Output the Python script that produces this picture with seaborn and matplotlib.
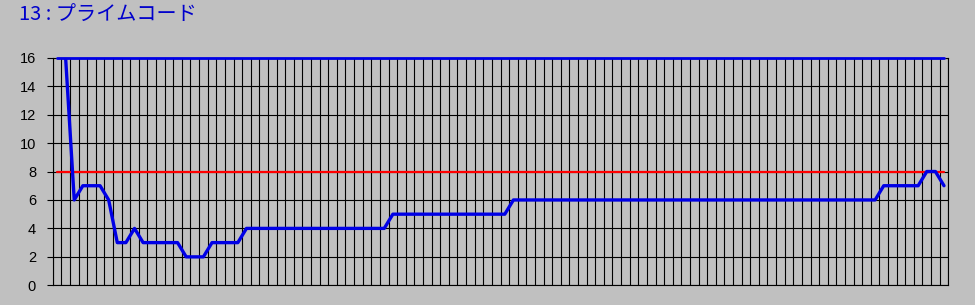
import numpy as np
import pandas as pd
import matplotlib
matplotlib.use("Agg")
import matplotlib.pyplot as plt
import seaborn as sns

title = "13 : プライムコード"
# series values (first point lies above the chart's top and is clipped)
values = ([28, 16, 6, 7, 7, 7, 6, 3, 3, 4]
          + [3] * 5 + [2] * 3 + [3] * 4 + [4] * 17 + [5] * 14
          + [6] * 43 + [7] * 5 + [8, 8, 7])
upper_line = 16
center_line = 8
y_ticks = [0, 2, 4, 6, 8, 10, 12, 14, 16]

n = len(values)
df = pd.DataFrame({"idx": np.arange(n), "value": values,
                   "upper": [upper_line] * n, "center": [center_line] * n})

sns.set_style("white")
plt.rcParams["font.family"] = ["Liberation Sans", "Noto Sans CJK JP", "DejaVu Sans"]

bg = "#C0C0C0"
fig = plt.figure(figsize=(9.75, 3.05), dpi=100, facecolor=bg)
ax = fig.add_axes([52.7 / 975, 19.7 / 305, 895.6 / 975, 227.6 / 305])
ax.set_facecolor(bg)

ax.set_xlim(-0.5, n - 0.5)
ax.set_ylim(0, 16)

# grid
ax.set_xticks(np.arange(-0.5, n, 1.0), minor=False)
ax.set_xticklabels([])
ax.set_yticks(y_ticks)
ax.grid(True, color="black", linewidth=0.8, zorder=0)
ax.set_axisbelow(True)
ax.tick_params(axis="x", length=0)
ax.tick_params(axis="y", length=4, width=0.8, color="black", pad=8,
               labelsize=10.5, labelcolor="black", direction="out", left=True)

for s in ax.spines.values():
    s.set_color("black")
    s.set_linewidth(0.8)
    s.set_visible(True)

sns.lineplot(data=df, x="idx", y="center", ax=ax, color="#FF0000",
             linewidth=1.6, clip_on=False, zorder=3)
sns.lineplot(data=df, x="idx", y="upper", ax=ax, color="#0000E6",
             linewidth=2.0, clip_on=False, zorder=4)
sns.lineplot(data=df, x="idx", y="value", ax=ax, color="#0000E6",
             linewidth=2.4, zorder=5)

ax.set_xlabel("")
ax.set_ylabel("")

fig.text(19 / 975, 1 - 15 / 305, title, color="#0000CC", fontsize=14.5,
         va="center", ha="left",
         family=["Noto Sans CJK JP", "DejaVu Sans"])

fig.savefig("out.png", dpi=100, facecolor=bg)
